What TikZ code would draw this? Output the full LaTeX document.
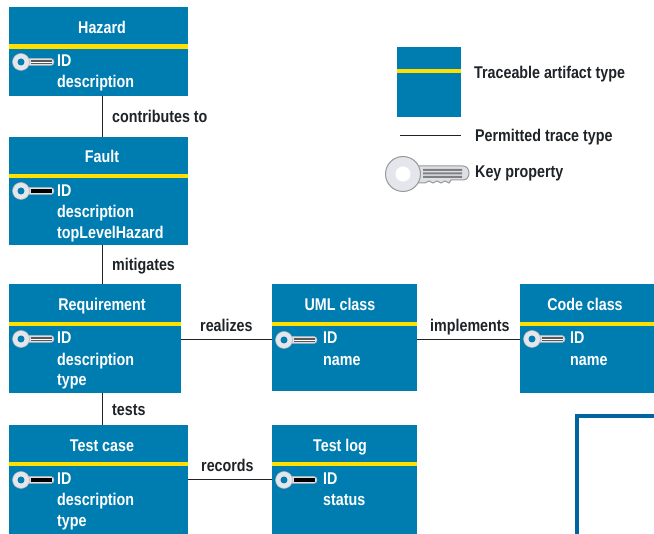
\documentclass[tikz,border=0pt]{standalone}
\usepackage{fontspec}
\setmainfont{Liberation Sans}[FakeStretch=0.84]
\definecolor{boxblue}{HTML}{007DB0}
\definecolor{bandyellow}{HTML}{FFE000}
\definecolor{frameblue}{HTML}{00659F}
\definecolor{inkdark}{HTML}{1E2328}
\definecolor{keyshaft}{HTML}{DDE0E6}
\definecolor{keyhead}{HTML}{E4E6EC}
\tikzset{
  x=1pt,y=-1pt,
  artifact/.style={fill=boxblue,draw=none,inner sep=0pt,anchor=north west,outer sep=0pt},
  band/.style={draw=bandyellow,line width=4.4pt},
  title/.style={text=white,font=\fontsize{17}{18}\selectfont\bfseries,anchor=base,inner sep=0pt,yshift=-0.5pt},
  field/.style={text=white,font=\fontsize{17}{18}\selectfont\bfseries,anchor=base west,inner sep=0pt,yshift=-0.5pt},
  caption/.style={text=inkdark,font=\fontsize{17}{18}\selectfont\bfseries,anchor=base west,inner sep=0pt,yshift=-0.5pt},
  trace/.style={draw=inkdark,line width=1pt},
  pics/keylarge/.style={code={
    \path[fill=keyshaft,draw=gray!80,line width=1pt]
      (12,-8) -- (60,-8) .. controls (68,-8) and (68,6) .. (60,6)
      -- (48,6) -- (46,9) -- (42,7) -- (38,9) -- (34,7) -- (30,9) -- (26,7) -- (22,9) -- (12,9) -- cycle;
    \path[fill=keyhead,draw=gray!80,line width=1pt] (0,0) circle[radius=17.5];
    \path[fill=white] (0,0) circle[radius=7.5];
    \path[fill=gray] (20,-5) rectangle (59,-3) (20,-1.5) rectangle (59,0.5) (20,2) rectangle (59,4);
  }},
  pics/keysmall/.style 2 args={code={
    \path[fill=keyshaft,draw=gray!60,line width=0.5pt]
      (6,-3.5) -- (30,-3.5) .. controls (34,-3.5) and (34,3.5) .. (30,3.5) -- (6,3.5) -- cycle;
    \path[fill=keyhead,draw=gray!60,line width=0.5pt] (0,0) circle[radius=8.5];
    \path[fill=boxblue] (0,0) circle[radius=3.5];
    \path[fill=#1] (10,-2) rectangle (31,2);
    \path[fill=#2] (10,-0.4) rectangle (31,0.4);
  }},
}
\begin{document}
\begin{tikzpicture}
\useasboundingbox (0,0) rectangle (654,534);
% blue frame fragment
\draw[frameblue,line width=4pt] (577,534) -- (577,416) -- (654,416);

% artifact boxes
\node[artifact,minimum width=179pt,minimum height=89pt] (hazard) at (9,7) {};
\node[artifact,minimum width=179pt,minimum height=108pt] (fault) at (9,137) {};
\node[artifact,minimum width=172pt,minimum height=109pt] (req) at (9,284) {};
\node[artifact,minimum width=145pt,minimum height=107pt] (uml) at (272,284) {};
\node[artifact,minimum width=134pt,minimum height=109pt] (code) at (520,284) {};
\node[artifact,minimum width=179pt,minimum height=109pt] (test) at (9,425) {};
\node[artifact,minimum width=145pt,minimum height=109pt] (log) at (272,425) {};
\node[artifact,minimum width=64pt,minimum height=70pt] (legend) at (397,47) {};

% yellow bands
\draw[band] (hazard.west |- 0,46.5) -- (hazard.east |- 0,46.5);
\draw[band] (fault.west |- 0,176) -- (fault.east |- 0,176);
\draw[band] (req.west |- 0,324) -- (req.east |- 0,324);
\draw[band] (uml.west |- 0,324) -- (uml.east |- 0,324);
\draw[band] (code.west |- 0,324) -- (code.east |- 0,324);
\draw[band] (test.west |- 0,464) -- (test.east |- 0,464);
\draw[band] (log.west |- 0,464) -- (log.east |- 0,464);
\draw[band,line width=4pt] (legend.west |- 0,71) -- (legend.east |- 0,71);

% connectors
\draw[trace] ([xshift=3.5pt]hazard.south) -- ([xshift=3.5pt]fault.north);
\draw[trace] ([xshift=3.5pt]fault.south) -- ([xshift=7pt]req.north);
\draw[trace] ([xshift=7pt]req.south) -- ([xshift=3.5pt]test.north);
\draw[trace] ([yshift=-1.5pt]req.east) -- ([yshift=-2.5pt]uml.west);
\draw[trace] ([yshift=-2.5pt]uml.east) -- ([yshift=-1.5pt]code.west);
\draw[trace] ([yshift=-0.5pt]test.east) -- ([yshift=-0.5pt]log.west);

% titles
\node[title] (t1) at (102,33) {Hazard};
\node[title] (t2) at (102,162) {Fault};
\node[title] (t3) at (102,310) {Requirement};
\node[title] (t4) at (340,310) {UML class};
\node[title] (t5) at (585,310) {Code class};
\node[title] (t6) at (102,451) {Test case};
\node[title] (t7) at (340,451) {Test log};

% fields
\node[field] (f1a) at (57,66) {ID};
\node[field] (f1b) at (57,87) {description};
\node[field] (f2a) at (57,196) {ID};
\node[field] (f2b) at (57,217) {description};
\node[field] (f2c) at (57,238) {topLevelHazard};
\node[field] (f3a) at (57,343) {ID};
\node[field] (f3b) at (57,365) {description};
\node[field] (f3c) at (57,385) {type};
\node[field] (f4a) at (323,343) {ID};
\node[field] (f4b) at (323,365) {name};
\node[field] (f5a) at (570,343) {ID};
\node[field] (f5b) at (570,365) {name};
\node[field] (f6a) at (57,484) {ID};
\node[field] (f6b) at (57,505) {description};
\node[field] (f6c) at (57,526) {type};
\node[field] (f7a) at (323,484) {ID};
\node[field] (f7b) at (323,505) {status};

% keys
\pic at (21,62) {keysmall={gray!70!black}{white}};
\pic at (21,191) {keysmall={black}{black}};
\pic at (21,339) {keysmall={gray!70!black}{white}};
\pic at (284,340) {keysmall={gray!70!black}{white}};
\pic at (532,339) {keysmall={gray!70!black}{white}};
\pic at (21,480) {keysmall={black}{black}};
\pic at (284,480) {keysmall={black}{black}};
\pic at (403,174) {keylarge};

% connector labels
\node[caption] (l1) at (112,122) {contributes to};
\node[caption] (l2) at (112,270) {mitigates};
\node[caption] (l3) at (112,415) {tests};
\node[caption] (l4) at (200,331) {realizes};
\node[caption] (l5) at (430,331) {implements};
\node[caption] (l6) at (201,471) {records};

% legend
\coordinate (ls) at (400,136);
\coordinate (le) at (461,136);
\draw[trace] (ls) -- (le);
\node[caption] (c1) at (474,78) {Traceable artifact type};
\node[caption] (c2) at (475,141) {Permitted trace type};
\node[caption] (c3) at (475,177) {Key property};
\end{tikzpicture}
\end{document}
